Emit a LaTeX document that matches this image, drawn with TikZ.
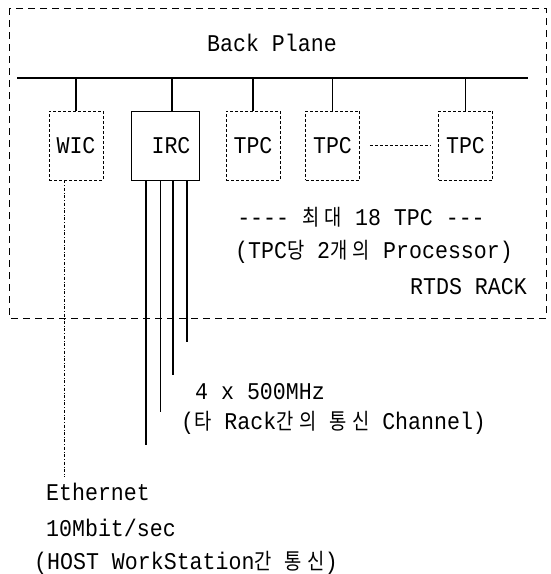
\documentclass[tikz,border=0pt]{standalone}
\usepackage{fontspec}
\usetikzlibrary{positioning}
\newfontfamily\lmono{Liberation Mono}[FakeStretch=0.9]
\newfontfamily\kr{Noto Sans CJK KR}[Scale=0.92, FakeStretch=0.85, LetterSpace=25]
\newcommand\hy{\mbox{-}}
\tikzset{
  lbl/.style={inner sep=0pt, font=\lmono\fontsize{24}{28}\selectfont},
  card/.style={lbl, draw, densely dashed, line width=0.7pt,
    minimum width=54pt, minimum height=69pt},
}

\begin{document}
\begin{tikzpicture}[x=1pt, y=-1pt]
  \useasboundingbox (0,0) rectangle (551,574);
  % rack
  \draw[line width=0.7pt, dash pattern=on 7pt off 5pt] (9,8) rectangle (546,318);
  \node[lbl] (bp) at (272,43) {Back Plane};
  % back plane bus
  \coordinate (busL) at (17,78);
  \coordinate (busR) at (528,78);
  \draw[line width=2.4pt] (busL) -- (busR);
  % cards
  \node[card] (wic) at (76,145.5) {WIC};
  \node[card, solid, minimum width=68pt] (irc) at (165,145.5) {\hspace*{12pt}IRC};
  \node[card] (tpc1) at (253,145.5) {TPC};
  \node[card] (tpc2) at (332.5,145.5) {TPC};
  \node[card] (tpc3) at (465.5,145.5) {TPC};
  \foreach \c in {wic,tpc1,tpc2,tpc3}
    \draw[line width=1.6pt] (\c.north |- busL) -- (\c.north);
  \draw[line width=1.6pt] ([xshift=7pt]irc.north |- busL) -- ([xshift=7pt]irc.north);
  \draw[densely dashed, line width=0.6pt] ([xshift=10pt]tpc2.east) -- ([xshift=-8pt]tpc3.west);
  % ethernet
  \coordinate (ethend) at (64,477);
  \draw[dash dot, line width=0.6pt] (wic.south -| ethend) -- (ethend);
  % channels
  \foreach \x/\y/\w [count=\i] in {146/445/1.2pt, 160/412/0.6pt, 173/375/1.2pt, 187/342/1.2pt} {
    \coordinate (ch\i) at (\x,\y);
    \draw[line width=\w] (irc.south -| ch\i) -- (ch\i);
  }
  % texts
  \node[lbl] (maxtpc) at (361,217) {\hy\hy\hy\hy\ {\kr 최대} 18 TPC \hy\hy\hy};
  \node[lbl] (perproc) at (374,252) {(TPC{\kr 당} 2{\kr 개의} Processor)};
  \node[lbl, anchor=east] (rtds) at (527,287) {RTDS RACK};
  \node[lbl, anchor=west] (mhz) at (195,392) {4 x 500MHz};
  \node[lbl, anchor=west] (chan) at (181,423) {({\kr 타} Rack{\kr 간의}\ {\kr 통신} Channel)};
  \node[lbl, anchor=west] (eth) at (46,492) {Ethernet};
  \node[lbl, anchor=west] (mbit) at (46,528) {10Mbit/sec};
  \node[lbl, anchor=west] (host) at (34,563) {(HOST WorkStation{\kr 간}\ {\kr 통신})};
\end{tikzpicture}
\end{document}
